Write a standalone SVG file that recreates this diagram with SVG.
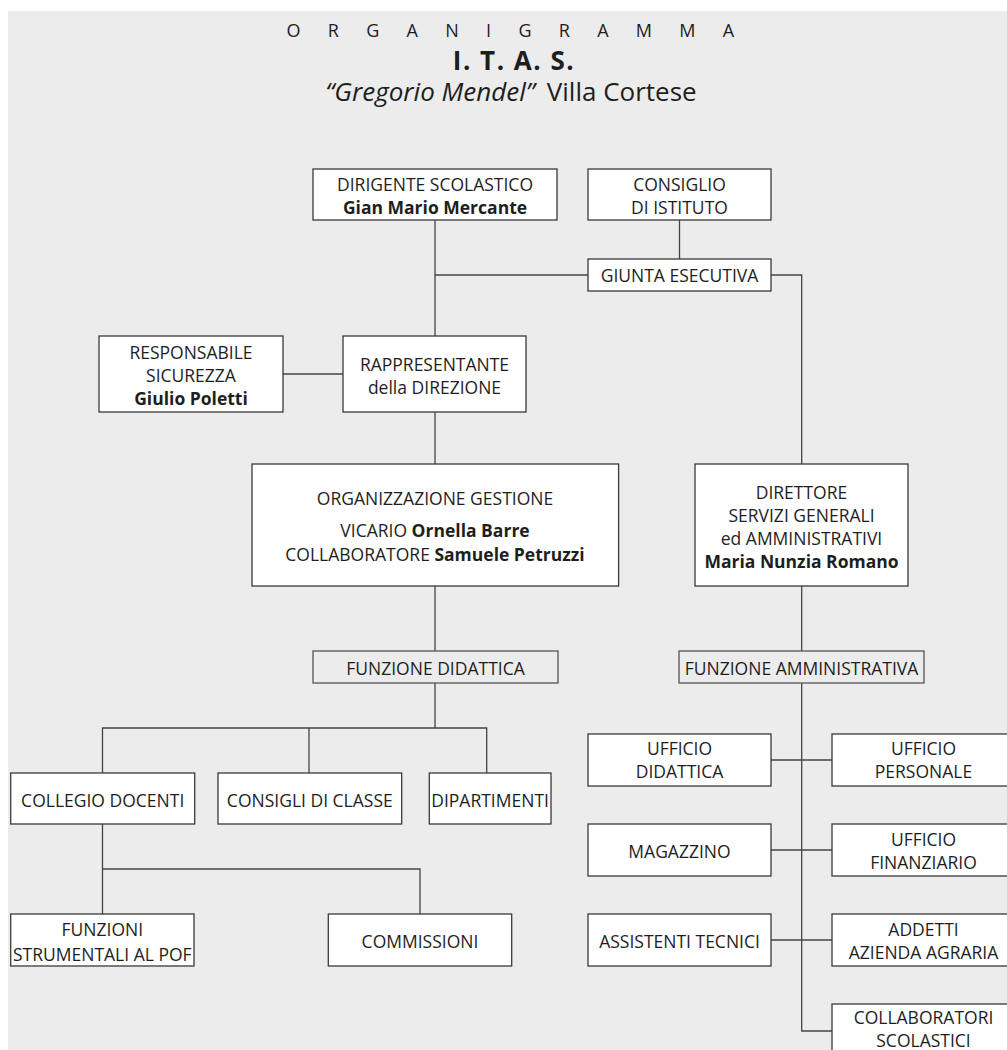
<svg xmlns="http://www.w3.org/2000/svg" width="1007" height="1050" viewBox="0 0 1007 1050">
<style>
  text { font-family: "Open Sans", "Liberation Sans", sans-serif; fill: #1e1e1e; }
  .t { font-size: 17.5px; text-anchor: middle; }
  .b { font-weight: bold; }
  .box { fill: #ffffff; stroke: #3a3a3a; stroke-width: 1.3; }
  .fbox { fill: #ececec; stroke: #555; stroke-width: 1.3; }
  .c { fill: none; stroke: #444; stroke-width: 1.3; }
</style>
<rect x="0" y="0" width="1007" height="1050" fill="#ffffff"/>
<rect x="8" y="11" width="999" height="1039" fill="#ececec"/>

<g id="title">
  <text x="516" y="37" style="font-size:18px; letter-spacing:11.3px" text-anchor="middle">O R G A N I G R A M M A</text>
  <text x="514" y="70" style="font-size:26px; font-weight:bold; letter-spacing:1.5px" text-anchor="middle">I. T. A. S.</text>
  <text x="511" y="101" style="font-size:26px" text-anchor="middle"><tspan font-style="italic">“Gregorio Mendel”</tspan><tspan dx="12">Villa Cortese</tspan></text>
</g>

<g id="connectors">
  <path class="c" d="M435 220 V336"/>
  <path class="c" d="M679.5 220 V259"/>
  <path class="c" d="M588 275 H435"/>
  <path class="c" d="M771 275 H801.7 V464"/>
  <path class="c" d="M283 374 H343"/>
  <path class="c" d="M435 412 V464"/>
  <path class="c" d="M435 586 V651"/>
  <path class="c" d="M435 683 V728"/>
  <path class="c" d="M102.5 773 V728 H486.7 V773"/>
  <path class="c" d="M309 728 V773"/>
  <path class="c" d="M102.5 824 V914"/>
  <path class="c" d="M102.5 869 H420 V914"/>
  <path class="c" d="M801.7 586 V651"/>
  <path class="c" d="M801.7 683 V1031 H832"/>
  <path class="c" d="M771 760 H832"/>
  <path class="c" d="M771 850 H832"/>
  <path class="c" d="M771 940 H832"/>
</g>

<g id="dirigente">
  <rect class="box" x="313" y="169" width="244" height="51"/>
  <text class="t" x="435" y="191">DIRIGENTE SCOLASTICO</text>
  <text class="t b" x="435" y="214">Gian Mario Mercante</text>
</g>
<g id="consiglio">
  <rect class="box" x="588" y="169" width="183" height="51"/>
  <text class="t" x="679.5" y="191">CONSIGLIO</text>
  <text class="t" x="679.5" y="214">DI ISTITUTO</text>
</g>
<g id="giunta">
  <rect class="box" x="588" y="259" width="183" height="32"/>
  <text class="t" x="679.5" y="282">GIUNTA ESECUTIVA</text>
</g>
<g id="responsabile">
  <rect class="box" x="99" y="336" width="184" height="76"/>
  <text class="t" x="191" y="359">RESPONSABILE</text>
  <text class="t" x="191" y="382">SICUREZZA</text>
  <text class="t b" x="191" y="405">Giulio Poletti</text>
</g>
<g id="rappresentante">
  <rect class="box" x="343" y="336" width="183" height="76"/>
  <text class="t" x="434.5" y="371">RAPPRESENTANTE</text>
  <text class="t" x="434.5" y="394">della DIREZIONE</text>
</g>
<g id="organizzazione">
  <rect class="box" x="252" y="464" width="366.6" height="122"/>
  <text class="t" x="435" y="505">ORGANIZZAZIONE GESTIONE</text>
  <text class="t" x="435" y="537">VICARIO <tspan class="b">Ornella Barre</tspan></text>
  <text class="t" x="435" y="561">COLLABORATORE <tspan class="b">Samuele Petruzzi</tspan></text>
</g>
<g id="direttore">
  <rect class="box" x="695" y="464" width="213" height="122"/>
  <text class="t" x="801.5" y="499">DIRETTORE</text>
  <text class="t" x="801.5" y="522">SERVIZI GENERALI</text>
  <text class="t" x="801.5" y="545">ed AMMINISTRATIVI</text>
  <text class="t b" x="801.5" y="568">Maria Nunzia Romano</text>
</g>
<g id="funzione-didattica">
  <rect class="fbox" x="313" y="651" width="245" height="32"/>
  <text class="t" x="435.5" y="674.5">FUNZIONE DIDATTICA</text>
</g>
<g id="funzione-amministrativa">
  <rect class="fbox" x="679" y="651" width="245" height="32"/>
  <text class="t" x="801.5" y="674.5">FUNZIONE AMMINISTRATIVA</text>
</g>
<g id="collegio">
  <rect class="box" x="10.7" y="773" width="184" height="51"/>
  <text class="t" x="102.7" y="807">COLLEGIO DOCENTI</text>
</g>
<g id="consigli">
  <rect class="box" x="218" y="773" width="183.7" height="51"/>
  <text class="t" x="309.8" y="807">CONSIGLI DI CLASSE</text>
</g>
<g id="dipartimenti">
  <rect class="box" x="429.3" y="773" width="121.7" height="51"/>
  <text class="t" x="490.1" y="807">DIPARTIMENTI</text>
</g>
<g id="funzioni">
  <rect class="box" x="10.7" y="914" width="183.3" height="52"/>
  <text class="t" x="102.3" y="936">FUNZIONI</text>
  <text class="t" x="102.3" y="961">STRUMENTALI AL POF</text>
</g>
<g id="commissioni">
  <rect class="box" x="328.3" y="914" width="183.4" height="52"/>
  <text class="t" x="420" y="947.5">COMMISSIONI</text>
</g>
<g id="ufficio-didattica">
  <rect class="box" x="588" y="734" width="183" height="52"/>
  <text class="t" x="679.5" y="755">UFFICIO</text>
  <text class="t" x="679.5" y="778">DIDATTICA</text>
</g>
<g id="ufficio-personale">
  <rect class="box" x="832" y="734" width="183" height="52"/>
  <text class="t" x="923.5" y="755">UFFICIO</text>
  <text class="t" x="923.5" y="778">PERSONALE</text>
</g>
<g id="magazzino">
  <rect class="box" x="588" y="824" width="183" height="52"/>
  <text class="t" x="679.5" y="858">MAGAZZINO</text>
</g>
<g id="ufficio-finanziario">
  <rect class="box" x="832" y="824" width="183" height="52"/>
  <text class="t" x="923.5" y="845.5">UFFICIO</text>
  <text class="t" x="923.5" y="869">FINANZIARIO</text>
</g>
<g id="assistenti">
  <rect class="box" x="588" y="914" width="183" height="52"/>
  <text class="t" x="679.5" y="948">ASSISTENTI TECNICI</text>
</g>
<g id="addetti">
  <rect class="box" x="832" y="914" width="183" height="52"/>
  <text class="t" x="923.5" y="936">ADDETTI</text>
  <text class="t" x="923.5" y="959">AZIENDA AGRARIA</text>
</g>
<g id="collaboratori">
  <rect class="box" x="832" y="1004" width="183" height="60"/>
  <text class="t" x="923.5" y="1024">COLLABORATORI</text>
  <text class="t" x="923.5" y="1047">SCOLASTICI</text>
</g>
</svg>
